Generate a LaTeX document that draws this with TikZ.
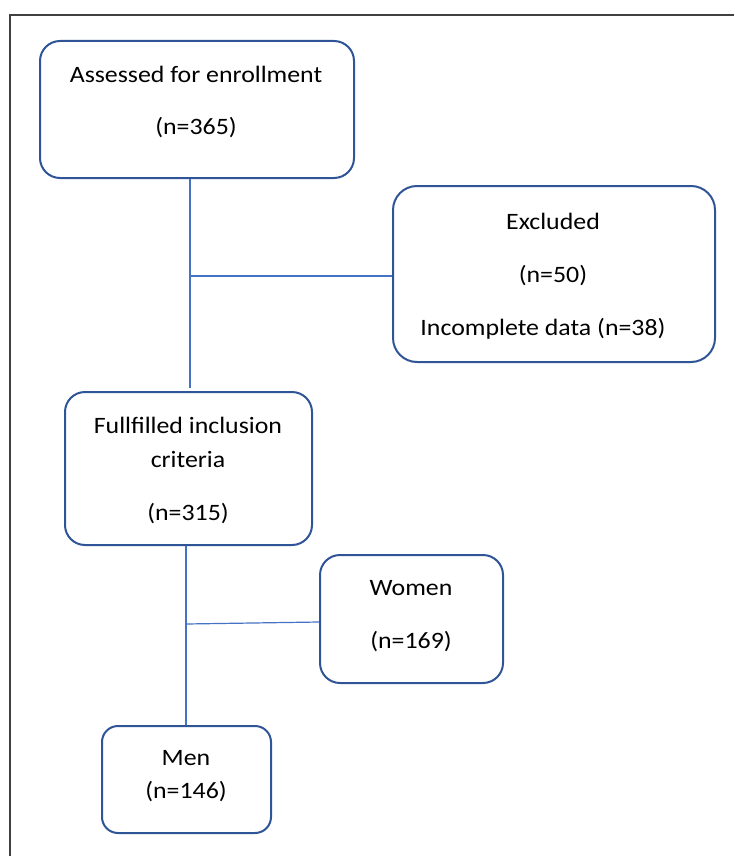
\documentclass[tikz,border=0pt]{standalone}
\usepackage{fontspec}
\setmainfont{Carlito}[FakeStretch=1.1]
\definecolor{boxblue}{RGB}{47,85,151}
\definecolor{linkblue}{RGB}{68,114,196}
\definecolor{framegray}{RGB}{64,64,64}
\tikzset{
	flowbox/.style={draw=boxblue,line width=2pt,rounded corners=20pt,inner sep=0pt},
	txt/.style={anchor=base,inner sep=0pt},
	link/.style={draw=linkblue,line width=1.2pt},
}
\begin{document}
\begin{tikzpicture} [x=1pt,y=-1pt,font=\fontsize{23.5}{28}\selectfont]
		\useasboundingbox (0,0) rectangle (734,856);
		\draw [framegray,line width=2pt] (734,15) -- (10,15) -- (10,856);
		% boxes
		\node [flowbox,minimum width=314pt,minimum height=137pt] (assess) at (197,109.5) {};
		\node [flowbox,minimum width=322pt,minimum height=176pt,rounded corners=24pt] (excl) at (554,274) {};
		\node [flowbox,minimum width=247pt,minimum height=153pt] (incl) at (188.5,468.5) {};
		\node [flowbox,minimum width=183pt,minimum height=128pt] (women) at (411.5,619) {};
		\node [flowbox,minimum width=169pt,minimum height=107pt,rounded corners=16pt] (men) at (186.5,779.5) {};
		% texts
		\node [txt] (assess1) at (196,83) {Assessed for enrollment};
		\node [txt] (assess2) at (196,135) {(n=365)};
		\node [txt] (excl1) at (553,229) {Excluded};
		\node [txt] (excl2) at (553,282) {(n=50)};
		\node [txt] (excl3) at (543,335) {Incomplete data (n=38)};
		\node [txt] (incl1) at (188,433) {Fullfilled inclusion};
		\node [txt] (incl2) at (188,467) {criteria};
		\node [txt] (incl3) at (188,520) {(n=315)};
		\node [txt] (women1) at (411,595) {Women};
		\node [txt] (women2) at (411,648) {(n=169)};
		\node [txt] (men1) at (186,765) {Men};
		\node [txt] (men2) at (186,798) {(n=146)};
		% connectors
		\coordinate (j1) at (190,276);
		\coordinate (stop1) at (190,388);
		\coordinate (j2) at (186,624);
		\draw [link] (assess.south -| j1) -- (stop1);
		\draw [link] (j1) -- (excl.west |- j1);
		\draw [link] (incl.south -| j2) -- (men.north -| j2);
		\draw [link] (j2) -- (women.west |- 0,622);
	\end{tikzpicture}
\end{document}
